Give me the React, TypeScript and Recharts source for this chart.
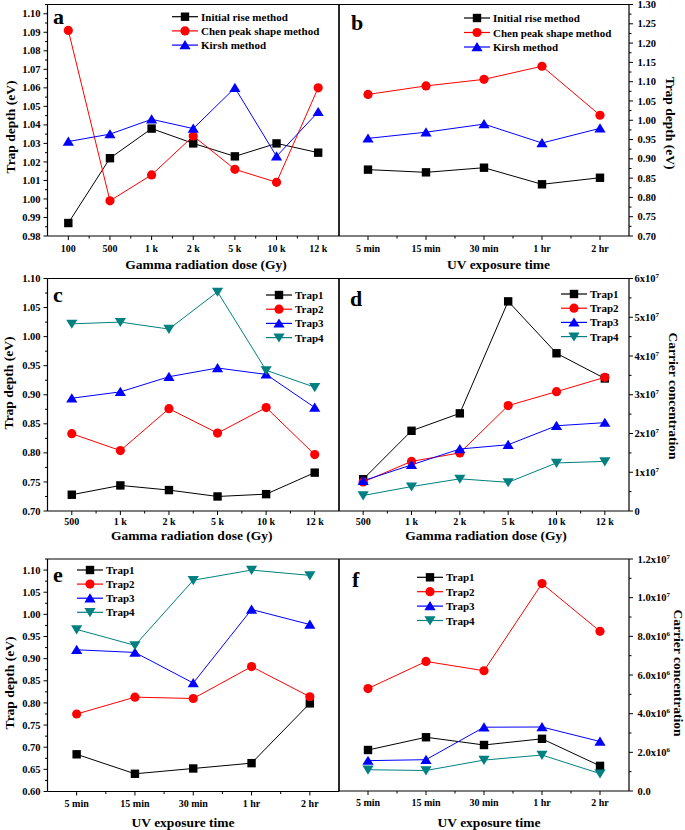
import React from "react";
import { LineChart, Line, XAxis, YAxis } from "recharts";

// ── Page / fonts ──────────────────────────────────────────────────────────────

const PAGE_W = 685;
const PAGE_H = 830;
const FONT = '"Liberation Serif", "Times New Roman", serif';

// ── Colours ───────────────────────────────────────────────────────────────────

const BLACK = "#000000";
const RED = "#ff0000";
const BLUE = "#0000ff";
const TEAL = "#008080";

// ── Categories ────────────────────────────────────────────────────────────────

const doseA = ["100", "500", "1 k", "2 k", "5 k", "10 k", "12 k"];
const doseC = ["500", "1 k", "2 k", "5 k", "10 k", "12 k"];
const uvTime = ["5 min", "15 min", "30 min", "1 hr", "2 hr"];

// ── Y tick values ─────────────────────────────────────────────────────────────

const ticksA = [0.98, 0.99, 1.0, 1.01, 1.02, 1.03, 1.04, 1.05, 1.06, 1.07, 1.08, 1.09, 1.1];
const ticksB = [0.7, 0.75, 0.8, 0.85, 0.9, 0.95, 1.0, 1.05, 1.1, 1.15, 1.2, 1.25, 1.3];
const ticksC = [0.7, 0.75, 0.8, 0.85, 0.9, 0.95, 1.0, 1.05, 1.1];
const ticksD = [0, 1e7, 2e7, 3e7, 4e7, 5e7, 6e7];
const ticksE = [0.6, 0.65, 0.7, 0.75, 0.8, 0.85, 0.9, 0.95, 1.0, 1.05, 1.1];
const ticksF = [0, 2e6, 4e6, 6e6, 8e6, 1e7, 1.2e7];

// ── Series values ─────────────────────────────────────────────────────────────

// (a) trap depth vs gamma dose
const aInitialRise = [0.987, 1.022, 1.038, 1.03, 1.023, 1.03, 1.025];
const aChen = [1.091, 0.999, 1.013, 1.034, 1.016, 1.009, 1.06];
const aKirsh = [1.031, 1.035, 1.043, 1.038, 1.06, 1.023, 1.047];

// (b) trap depth vs UV time
const bInitialRise = [0.872, 0.865, 0.877, 0.834, 0.851];
const bChen = [1.067, 1.089, 1.106, 1.14, 1.013];
const bKirsh = [0.953, 0.969, 0.99, 0.941, 0.979];

// (c) trap depth per trap vs gamma dose
const cTrap1 = [0.728, 0.744, 0.736, 0.725, 0.729, 0.766];
const cTrap2 = [0.833, 0.804, 0.876, 0.834, 0.878, 0.797];
const cTrap3 = [0.894, 0.905, 0.931, 0.946, 0.935, 0.878];
const cTrap4 = [1.022, 1.025, 1.013, 1.077, 0.942, 0.913];

// (d) carrier concentration vs gamma dose
const dTrap1 = [0.82e7, 2.07e7, 2.52e7, 5.41e7, 4.07e7, 3.42e7];
const dTrap2 = [0.75e7, 1.28e7, 1.5e7, 2.72e7, 3.08e7, 3.45e7];
const dTrap3 = [0.78e7, 1.19e7, 1.6e7, 1.71e7, 2.2e7, 2.28e7];
const dTrap4 = [0.4e7, 0.63e7, 0.83e7, 0.74e7, 1.24e7, 1.28e7];

// (e) trap depth per trap vs UV time
const eTrap1 = [0.684, 0.64, 0.652, 0.664, 0.799];
const eTrap2 = [0.775, 0.813, 0.81, 0.882, 0.814];
const eTrap3 = [0.92, 0.914, 0.845, 1.011, 0.977];
const eTrap4 = [0.966, 0.93, 1.077, 1.1, 1.088];

// (f) carrier concentration vs UV time
const fTrap1 = [2.12e6, 2.78e6, 2.38e6, 2.7e6, 1.3e6];
const fTrap2 = [5.3e6, 6.7e6, 6.22e6, 10.73e6, 8.26e6];
const fTrap3 = [1.57e6, 1.62e6, 3.3e6, 3.31e6, 2.56e6];
const fTrap4 = [1.1e6, 1.06e6, 1.6e6, 1.86e6, 0.9e6];

// ── Types ─────────────────────────────────────────────────────────────────────

type MarkerKind = "square" | "circle" | "up" | "down";

interface SeriesDef {
  name: string;
  values: number[];
  color: string;
  marker: MarkerKind;
}

interface PanelDef {
  letter: string;
  letterX: number;
  letterY: number;
  box: { x1: number; x2: number; y1: number; y2: number };
  categories: string[];
  xLabelDy: number;
  series: SeriesDef[];
  yDomain: [number, number];
  yMajor: number[];
  yFormat: (v: number) => React.ReactNode;
  ySide: "left" | "right";
  yLabelGap: number;
  xTitle: string;
  xTitleX: number;
  xTitleY: number;
  yTitle: string;
  yTitleX: number;
  yTitleY: number;
  legendX: number;
  legendY: number;
  legendDy: number;
}

// ── Formatters ────────────────────────────────────────────────────────────────

const fixed2 = (v: number) => v.toFixed(2);

const sciInt = (v: number) =>
  v === 0 ? (
    "0"
  ) : (
    <>
      {`${Math.round(v / 1e7)}x10`}
      <tspan dy={-4} fontSize={7}>7</tspan>
    </>
  );

const sciOne = (v: number) => {
  if (v === 0) return "0.0";
  const e = Math.floor(Math.log10(v) + 1e-9);
  const m = (v / Math.pow(10, e)).toFixed(1);
  return (
    <>
      {`${m}x10`}
      <tspan dy={-4} fontSize={7}>{e}</tspan>
    </>
  );
};

// ── Markers ───────────────────────────────────────────────────────────────────

function Marker({ cx, cy, kind, color }: { cx: number; cy: number; kind: MarkerKind; color: string }) {
  if (cx == null || cy == null) return null;
  switch (kind) {
    case "square":
      return <rect x={cx - 4.2} y={cy - 4.2} width={8.4} height={8.4} fill={color} />;
    case "circle":
      return <circle cx={cx} cy={cy} r={4.6} fill={color} />;
    case "up":
      return <polygon points={`${cx},${cy - 5} ${cx - 5.6},${cy + 4.2} ${cx + 5.6},${cy + 4.2}`} fill={color} />;
    default:
      return <polygon points={`${cx},${cy + 5} ${cx - 5.6},${cy - 4.2} ${cx + 5.6},${cy - 4.2}`} fill={color} />;
  }
}

const renderDot = (kind: MarkerKind, color: string) => (props: any) =>
  <Marker key={`m-${props.index}`} cx={props.cx} cy={props.cy} kind={kind} color={color} />;

// ── Ticks ─────────────────────────────────────────────────────────────────────

function withMinor(major: number[], domain: [number, number]) {
  const step = major[1] - major[0];
  const minor: number[] = [];
  for (let i = 0; i < major.length - 1; i++) minor.push((major[i] + major[i + 1]) / 2);
  const extra = major[major.length - 1] + step / 2;
  if (extra <= domain[1] + step * 1e-6) minor.push(extra);
  return [...major, ...minor].sort((a, b) => a - b);
}

const renderXTick = (labels: string[], dy: number) => (props: any) => {
  const { x, y, payload, index } = props;
  const v = payload.value as number;
  const major = Math.abs(v - Math.round(v)) < 1e-6;
  return (
    <g key={`xt-${index}`}>
      <line x1={x} x2={x} y1={y} y2={y + (major ? 4 : 2.5)} stroke={BLACK} strokeWidth={1} />
      {major && (
        <text x={x} y={y + dy} textAnchor="middle" fontSize={10} fontWeight="bold" fontFamily={FONT} fill={BLACK}>
          {labels[Math.round(v)]}
        </text>
      )}
    </g>
  );
};

const renderYTick =
  (side: "left" | "right", majors: number[], fmt: (v: number) => React.ReactNode, gap: number) =>
  (props: any) => {
    const { x, y, payload, index } = props;
    const v = payload.value as number;
    const step = majors[1] - majors[0];
    const major = majors.some((m) => Math.abs(m - v) < step * 1e-3);
    const dir = side === "left" ? -1 : 1;
    return (
      <g key={`yt-${index}`}>
        <line x1={x} x2={x + dir * (major ? 4 : 2.5)} y1={y} y2={y} stroke={BLACK} strokeWidth={1} />
        {major && (
          <text
            x={x + dir * gap}
            y={y + 3.6}
            textAnchor={side === "left" ? "end" : "start"}
            fontSize={10.5}
            fontWeight="bold"
            fontFamily={FONT}
            fill={BLACK}
          >
            {fmt(v)}
          </text>
        )}
      </g>
    );
  };

// ── Decorations: panel letter, axis titles, legend ────────────────────────────

function PanelDecor({ p }: { p: PanelDef }) {
  return (
    <g fontFamily={FONT} fontWeight="bold" fill={BLACK}>
      <text x={p.letterX} y={p.letterY} fontSize={22}>
        {p.letter}
      </text>
      <text x={p.xTitleX} y={p.xTitleY} textAnchor="middle" fontSize={13.5}>
        {p.xTitle}
      </text>
      <text
        transform={`translate(${p.yTitleX},${p.yTitleY}) rotate(${p.ySide === "left" ? -90 : 90})`}
        textAnchor="middle"
        dominantBaseline="central"
        fontSize={13.5}
      >
        {p.yTitle}
      </text>
      {p.series.map((s, k) => {
        const y = p.legendY + k * p.legendDy;
        return (
          <g key={s.name}>
            <line x1={p.legendX} x2={p.legendX + 26} y1={y} y2={y} stroke={s.color} strokeWidth={1.2} />
            <Marker cx={p.legendX + 13} cy={y} kind={s.marker} color={s.color} />
            <text x={p.legendX + 29} y={y + 4} fontSize={11}>
              {s.name}
            </text>
          </g>
        );
      })}
    </g>
  );
}

// ── One panel = one full-page LineChart whose plot area is the panel box ──────

const AXIS_W = 30;
const AXIS_H = 30;
const axisStyle = { stroke: BLACK, strokeWidth: 1.2 };

function Panel({ p }: { p: PanelDef }) {
  const n = p.categories.length;
  const data = p.categories.map((_, i) => {
    const row: Record<string, number> = { x: i };
    p.series.forEach((s, k) => {
      row[`s${k}`] = s.values[i];
    });
    return row;
  });
  const xTicks = Array.from({ length: 2 * n - 1 }, (_, i) => i / 2);
  const yTicks = withMinor(p.yMajor, p.yDomain);
  const margin = {
    left: p.box.x1 - AXIS_W,
    right: PAGE_W - p.box.x2 - AXIS_W,
    top: p.box.y1 - 1,
    bottom: PAGE_H - p.box.y2 - AXIS_H,
  };
  const yTick = renderYTick(p.ySide, p.yMajor, p.yFormat, p.yLabelGap);

  return (
    <div style={{ position: "absolute", left: 0, top: 0 }}>
      <LineChart width={PAGE_W} height={PAGE_H} data={data} margin={margin}>
        <XAxis
          xAxisId="b"
          dataKey="x"
          type="number"
          domain={[-0.5, n - 0.5]}
          ticks={xTicks}
          interval={0}
          height={AXIS_H}
          tickSize={0}
          tickMargin={0}
          tickLine={false}
          axisLine={axisStyle}
          tick={renderXTick(p.categories, p.xLabelDy)}
        />
        <XAxis
          xAxisId="t"
          orientation="top"
          type="number"
          domain={[-0.5, n - 0.5]}
          height={1}
          tick={false}
          tickLine={false}
          axisLine={axisStyle}
        />
        <YAxis
          yAxisId="l"
          orientation="left"
          type="number"
          width={AXIS_W}
          domain={p.yDomain}
          ticks={yTicks}
          interval={0}
          tickSize={0}
          tickMargin={0}
          tickLine={false}
          axisLine={axisStyle}
          tick={p.ySide === "left" ? yTick : false}
        />
        <YAxis
          yAxisId="r"
          orientation="right"
          type="number"
          width={AXIS_W}
          domain={p.yDomain}
          ticks={yTicks}
          interval={0}
          tickSize={0}
          tickMargin={0}
          tickLine={false}
          axisLine={axisStyle}
          tick={p.ySide === "right" ? yTick : false}
        />
        {p.series.map((s, k) => (
          <Line
            key={s.name}
            xAxisId="b"
            yAxisId={p.ySide === "left" ? "l" : "r"}
            type="linear"
            dataKey={`s${k}`}
            stroke={s.color}
            strokeWidth={1}
            dot={renderDot(s.marker, s.color)}
            activeDot={false}
            isAnimationActive={false}
          />
        ))}
        <PanelDecor p={p} />
      </LineChart>
    </div>
  );
}

// ── Panel definitions ─────────────────────────────────────────────────────────

const methodSeries = (ir: number[], chen: number[], kirsh: number[]): SeriesDef[] => [
  { name: "Initial rise method", values: ir, color: BLACK, marker: "square" },
  { name: "Chen peak shape method", values: chen, color: RED, marker: "circle" },
  { name: "Kirsh method", values: kirsh, color: BLUE, marker: "up" },
];

const trapSeries = (t1: number[], t2: number[], t3: number[], t4: number[]): SeriesDef[] => [
  { name: "Trap1", values: t1, color: BLACK, marker: "square" },
  { name: "Trap2", values: t2, color: RED, marker: "circle" },
  { name: "Trap3", values: t3, color: BLUE, marker: "up" },
  { name: "Trap4", values: t4, color: TEAL, marker: "down" },
];

const LEFT = { x1: 47.5, x2: 339 };
const RIGHT = { x1: 339, x2: 629 };

const panels: PanelDef[] = [
  {
    letter: "a", letterX: 53, letterY: 23.5,
    box: { ...LEFT, y1: 4.5, y2: 236 },
    categories: doseA, xLabelDy: 16,
    series: methodSeries(aInitialRise, aChen, aKirsh),
    yDomain: [0.98, 1.105], yMajor: ticksA, yFormat: fixed2, ySide: "left", yLabelGap: 7,
    xTitle: "Gamma radiation dose (Gy)", xTitleX: 206, xTitleY: 268.5,
    yTitle: "Trap depth (eV)", yTitleX: 10, yTitleY: 127,
    legendX: 172, legendY: 16.7, legendDy: 14.2,
  },
  {
    letter: "b", letterX: 351, letterY: 30,
    box: { ...RIGHT, y1: 4.5, y2: 236 },
    categories: uvTime, xLabelDy: 16,
    series: methodSeries(bInitialRise, bChen, bKirsh),
    yDomain: [0.7, 1.3], yMajor: ticksB, yFormat: fixed2, ySide: "right", yLabelGap: 8.5,
    xTitle: "UV exposure time", xTitleX: 498.5, xTitleY: 268.5,
    yTitle: "Trap depth (eV)", yTitleX: 670, yTitleY: 123,
    legendX: 464, legendY: 18, legendDy: 14.5,
  },
  {
    letter: "c", letterX: 53, letterY: 302,
    box: { ...LEFT, y1: 278.5, y2: 511 },
    categories: doseC, xLabelDy: 14,
    series: trapSeries(cTrap1, cTrap2, cTrap3, cTrap4),
    yDomain: [0.7, 1.1], yMajor: ticksC, yFormat: fixed2, ySide: "left", yLabelGap: 7,
    xTitle: "Gamma radiation dose (Gy)", xTitleX: 191.7, xTitleY: 539.5,
    yTitle: "Trap depth (eV)", yTitleX: 8, yTitleY: 383,
    legendX: 266, legendY: 295, legendDy: 14.2,
  },
  {
    letter: "d", letterX: 350, letterY: 306,
    box: { ...RIGHT, y1: 278.5, y2: 511 },
    categories: doseC, xLabelDy: 14,
    series: trapSeries(dTrap1, dTrap2, dTrap3, dTrap4),
    yDomain: [0, 6e7], yMajor: ticksD, yFormat: sciInt, ySide: "right", yLabelGap: 5.5,
    xTitle: "Gamma radiation dose (Gy)", xTitleX: 486, xTitleY: 539.5,
    yTitle: "Carrier concentration", yTitleX: 673, yTitleY: 396,
    legendX: 561, legendY: 294, legendDy: 14.2,
  },
  {
    letter: "e", letterX: 53, letterY: 582,
    box: { ...LEFT, y1: 559, y2: 791.5 },
    categories: uvTime, xLabelDy: 15,
    series: trapSeries(eTrap1, eTrap2, eTrap3, eTrap4),
    yDomain: [0.6, 1.125], yMajor: ticksE, yFormat: fixed2, ySide: "left", yLabelGap: 7,
    xTitle: "UV exposure time", xTitleX: 183, xTitleY: 826.5,
    yTitle: "Trap depth (eV)", yTitleX: 9, yTitleY: 683,
    legendX: 77, legendY: 570, legendDy: 14.1,
  },
  {
    letter: "f", letterX: 352, letterY: 587,
    box: { ...RIGHT, y1: 559, y2: 791 },
    categories: uvTime, xLabelDy: 15,
    series: trapSeries(fTrap1, fTrap2, fTrap3, fTrap4),
    yDomain: [0, 1.2e7], yMajor: ticksF, yFormat: sciOne, ySide: "right", yLabelGap: 8.5,
    xTitle: "UV exposure time", xTitleX: 489, xTitleY: 826.5,
    yTitle: "Carrier concentration", yTitleX: 678, yTitleY: 673,
    legendX: 417, legendY: 577.3, legendDy: 14.4,
  },
];

// ── App ───────────────────────────────────────────────────────────────────────

export default function App() {
  return (
    <div
      style={{
        position: "absolute",
        left: 0,
        top: 0,
        width: PAGE_W,
        height: PAGE_H,
        background: "#ffffff",
        overflow: "hidden",
      }}
    >
      {panels.map((p) => (
        <Panel key={p.letter} p={p} />
      ))}
    </div>
  );
}
